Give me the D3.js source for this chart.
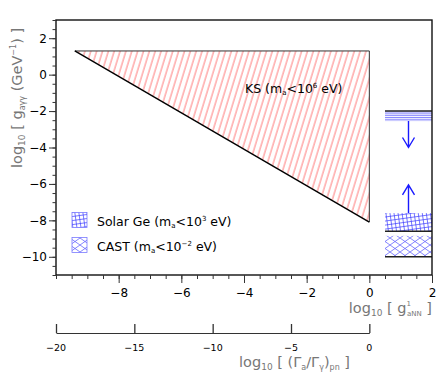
<!DOCTYPE html>
<script src="https://d3js.org/d3.v7.min.js"></script>
<style>
  body { margin: 0; background: #fff; }
  text { font-family: "DejaVu Sans", sans-serif; }
</style>
<body>
<svg id="chart" width="436" height="379"></svg>
<script>
// axis settings
var xDomain = [-10, 2];
var yDomain = [-11, 3];
var xMajor = [-8, -6, -4, -2, 0, 2];
var yMajor = [-10, -8, -6, -4, -2, 0, 2];
var gammaTicks = [-20, -15, -10, -5, 0];

// KS excluded triangle (log g_aNN, log g_agg)
var ksX = [-9.4, 0, 0];
var ksY = [1.3, 1.3, -8.1];

// bounds on the right strip
var stripX = [0.5, 2];
var limitLines = [-2, -8.6, -10];
var bandNames = ["lines", "solar", "cast"];
var bandTop = [-2, -7.6, -8.85];
var bandBottom = [-2.55, -8.6, -10];
var arrowX = 1.25;
var arrowFrom = [-2.55, -7.6];
var arrowTo = [-4.0, -6.05];

var legendNames = ["Solar Ge", "CAST"];
var legendExp = ["3", "\u22122"];
var legendPattern = ["solar", "cast"];

var svg = d3.select("#chart");
var pL = 56, pR = 432, pT = 20, pB = 275;

var x = d3.scaleLinear().domain(xDomain).range([pL, pR]);
var y = d3.scaleLinear().domain(yDomain).range([pB, pT]);
var xg = d3.scaleLinear().domain([-20, 0]).range([pL, x(0)]);

var defs = svg.append("defs");
var pk = defs.append("pattern").attr("id", "ks")
    .attr("patternUnits", "userSpaceOnUse")
    .attr("width", 5.6).attr("height", 10)
    .attr("patternTransform", "rotate(17)");
pk.append("line").attr("x1", 1).attr("y1", 0).attr("x2", 1).attr("y2", 10)
    .attr("stroke", "#ff6a6a").attr("stroke-width", 0.9);

var pl = defs.append("pattern").attr("id", "lines")
    .attr("patternUnits", "userSpaceOnUse")
    .attr("width", 10).attr("height", 1.8);
pl.append("line").attr("x1", 0).attr("y1", 0.5).attr("x2", 10).attr("y2", 0.5)
    .attr("stroke", "#5050ff").attr("stroke-width", 0.7);

var ps = defs.append("pattern").attr("id", "solar")
    .attr("patternUnits", "userSpaceOnUse")
    .attr("width", 4).attr("height", 4)
    .attr("patternTransform", "rotate(-8)");
ps.append("path").attr("d", "M0,0.5H4M0.5,0V4")
    .attr("stroke", "#3c3cff").attr("stroke-width", 0.7).attr("fill", "none");

var pc = defs.append("pattern").attr("id", "cast")
    .attr("patternUnits", "userSpaceOnUse")
    .attr("width", 10).attr("height", 7);
pc.append("path").attr("d", "M0,0L10,7M10,0L0,7")
    .attr("stroke", "#5050ff").attr("stroke-width", 0.7).attr("fill", "none");

// KS triangle
var tri = ksX.map(function(d, i) { return [x(d), y(ksY[i])]; });
svg.append("path")
    .attr("d", "M" + tri.join("L") + "Z")
    .attr("fill", "url(#ks)");
svg.append("path")
    .attr("d", "M" + tri[0] + "L" + tri[1] + "L" + tri[2])
    .attr("fill", "none").attr("stroke", "#333").attr("stroke-width", 1);
svg.append("path")
    .attr("d", "M" + tri[0] + "L" + tri[2])
    .attr("fill", "none").attr("stroke", "#000").attr("stroke-width", 1.4);

var ks = svg.append("text").attr("x", 245).attr("y", 93)
    .attr("font-size", 12.5).attr("fill", "#000");
ks.append("tspan").text("KS (m");
ks.append("tspan").attr("font-size", 7).attr("dy", 2).text("a");
ks.append("tspan").attr("dy", -2).text("<10");
ks.append("tspan").attr("font-size", 7).attr("dy", -5).text("6");
ks.append("tspan").attr("dy", 5).text(" eV)");

// right strip bands
bandNames.forEach(function(n, i) {
    svg.append("rect")
        .attr("x", x(stripX[0])).attr("width", x(stripX[1]) - x(stripX[0]))
        .attr("y", y(bandTop[i])).attr("height", y(bandBottom[i]) - y(bandTop[i]))
        .attr("fill", "url(#" + n + ")");
});
limitLines.forEach(function(v) {
    svg.append("line")
        .attr("x1", x(stripX[0])).attr("x2", x(stripX[1]))
        .attr("y1", y(v)).attr("y2", y(v))
        .attr("stroke", "#222").attr("stroke-width", 1.6);
});
arrowFrom.forEach(function(v, i) {
    var ax = x(arrowX), y0 = y(v), y1 = y(arrowTo[i]);
    var dir = y1 > y0 ? -1 : 1;
    svg.append("path")
        .attr("d", "M" + ax + "," + y0 + "V" + y1 +
            "M" + (ax - 6) + "," + (y1 + dir * 10) + "L" + ax + "," + y1 +
            "L" + (ax + 6) + "," + (y1 + dir * 10))
        .attr("fill", "none").attr("stroke", "#1a1aff").attr("stroke-width", 1.4);
});

// frame
svg.append("rect").attr("x", pL).attr("y", pT)
    .attr("width", pR - pL).attr("height", pB - pT)
    .attr("fill", "none").attr("stroke", "#111").attr("stroke-width", 1.4);

function fmt(d) { return d < 0 ? "\u2212" + (-d) : d; }

// y axis
var yAxis = svg.append("g").attr("transform", "translate(" + pL + ",0)");
yAxis.call(d3.axisLeft(y).tickValues(d3.range(-11, 3.01, 0.5)).tickSize(3.5).tickFormat(""));
yAxis.call(function(g) {
    g.select(".domain").remove();
    g.selectAll("line").attr("stroke", "#333");
});
var yAxisM = svg.append("g").attr("transform", "translate(" + pL + ",0)");
yAxisM.call(d3.axisLeft(y).tickValues(yMajor).tickSize(7).tickPadding(2).tickFormat(fmt));
yAxisM.call(function(g) {
    g.select(".domain").remove();
    g.selectAll("line").attr("stroke", "#333");
    g.selectAll("text").attr("font-family", "DejaVu Sans").attr("font-size", 12).attr("fill", "#000");
});

// x axis
var xAxis = svg.append("g").attr("transform", "translate(0," + pB + ")");
xAxis.call(d3.axisBottom(x).tickValues(d3.range(-10, 2.01, 0.5)).tickSize(4).tickFormat(""));
xAxis.call(function(g) {
    g.select(".domain").remove();
    g.selectAll("line").attr("stroke", "#333");
});
var xAxisM = svg.append("g").attr("transform", "translate(0," + pB + ")");
xAxisM.call(d3.axisBottom(x).tickValues(xMajor).tickSize(8).tickPadding(5).tickFormat(fmt));
xAxisM.call(function(g) {
    g.select(".domain").remove();
    g.selectAll("line").attr("stroke", "#333");
    g.selectAll("text").attr("font-family", "DejaVu Sans").attr("font-size", 12).attr("fill", "#000");
});

// second axis (Gamma ratio)
var gAxis = svg.append("g").attr("transform", "translate(0,333)");
gAxis.call(d3.axisTop(xg).tickValues(gammaTicks).tickSize(9).tickSizeOuter(0).tickFormat(""));
gAxis.call(function(g) {
    g.select(".domain").attr("stroke", "#333");
    g.selectAll("line").attr("stroke", "#333").attr("stroke-width", 1.3);
});
gammaTicks.forEach(function(d) {
    svg.append("text").attr("x", xg(d)).attr("y", 351)
        .attr("text-anchor", "middle").attr("font-size", 9.5).attr("fill", "#000")
        .text(fmt(d));
});

// axis titles
var grey = "#777";
var yt = svg.append("text")
    .attr("transform", "translate(22,168) rotate(-90)")
    .attr("font-size", 14.5).attr("fill", grey);
yt.append("tspan").text("log");
yt.append("tspan").attr("font-size", 9).attr("dy", 3).text("10");
yt.append("tspan").attr("dy", -3).text(" [ g");
yt.append("tspan").attr("font-size", 8).attr("dy", 3).text("a\u03b3\u03b3");
yt.append("tspan").attr("dy", -3).text(" (GeV");
yt.append("tspan").attr("font-size", 8).attr("dy", -6).text("\u22121");
yt.append("tspan").attr("dy", 6).text(") ]");

var xt = svg.append("text").attr("x", pR).attr("y", 313)
    .attr("text-anchor", "end").attr("font-size", 14.5).attr("fill", grey);
xt.append("tspan").text("log");
xt.append("tspan").attr("font-size", 9).attr("dy", 3).text("10");
xt.append("tspan").attr("dy", -3).text(" [ g");
xt.append("tspan").attr("font-size", 7).attr("dy", -7).text("1");
xt.append("tspan").attr("font-size", 7).attr("dx", -4).attr("dy", 10).text("aNN");
xt.append("tspan").attr("dy", -3).text(" ]");

var gt = svg.append("text").attr("x", 350).attr("y", 367)
    .attr("text-anchor", "end").attr("font-size", 14.5).attr("fill", grey);
gt.append("tspan").text("log");
gt.append("tspan").attr("font-size", 9).attr("dy", 3).text("10");
gt.append("tspan").attr("dy", -3).text(" [ (\u0393");
gt.append("tspan").attr("font-size", 8).attr("dy", 3).text("a");
gt.append("tspan").attr("dy", -3).text("/\u0393");
gt.append("tspan").attr("font-size", 8).attr("dy", 3).text("\u03b3");
gt.append("tspan").attr("dy", -3).text(")");
gt.append("tspan").attr("font-size", 8).attr("dy", 3).text("pn");
gt.append("tspan").attr("dy", -3).text(" ]");

// legend
legendNames.forEach(function(n, i) {
    var cy = 220 + i * 25;
    svg.append("rect").attr("x", 72).attr("y", cy - 7.5)
        .attr("width", 15).attr("height", 15)
        .attr("fill", "url(#" + legendPattern[i] + ")")
        .attr("stroke", "#7a7aff").attr("stroke-width", 0.8);
    var t = svg.append("text").attr("x", 97).attr("y", cy + 6)
        .attr("font-size", 12.5).attr("fill", "#000");
    t.append("tspan").text(n + " (m");
    t.append("tspan").attr("font-size", 7).attr("dy", 2).text("a");
    t.append("tspan").attr("dy", -2).text("<10");
    t.append("tspan").attr("font-size", 7).attr("dy", -5).text(legendExp[i]);
    t.append("tspan").attr("dy", 5).text(" eV)");
});
</script>
</body>
